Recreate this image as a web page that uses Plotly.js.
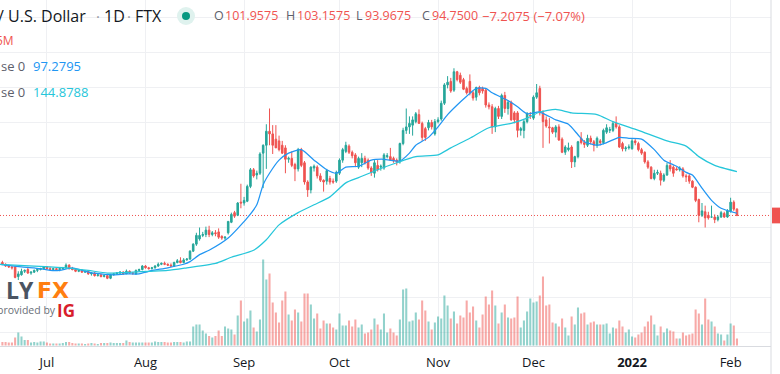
<!DOCTYPE html>
<html><head><meta charset="utf-8">
<script src="https://cdn.plot.ly/plotly-3.0.1.min.js"></script>
<style>html,body{margin:0;padding:0;background:#fff;overflow:hidden}#c{width:780px;height:374px}</style>
</head><body><div id="c"></div>
<script>
const open = [41,39,37,36,36,25,27,31,33,29,
30,32,33,34,36,34,33,34,33,34,
35,38,34,33,31,32,30,31,28,29,
26,27,25,26,23,27,28,29,30,28,
31,29,28,32,33,37,35,34,35,37,
39,40,39,38,37,41,43,41,44,45,
54,62,68,72,73,78,73,75,76,71,
69,75,87,98,95,110,109,111,128,147,
141,143,166,175,191,188,182,180,175,172,
159,160,153,148,170,155,133,124,149,150,
140,135,134,137,134,134,143,158,168,174,
167,164,150,155,160,158,149,143,152,150,
149,162,162,160,158,156,177,192,196,198,
202,210,200,194,195,201,188,202,205,223,
244,248,238,259,255,250,240,248,235,230,
241,240,238,221,219,196,217,208,232,217,
224,212,212,192,192,202,209,206,230,240,
212,204,196,195,190,196,182,167,170,173,
156,162,183,178,175,183,179,175,180,178,
190,192,192,200,196,177,171,172,171,180,
177,170,167,156,150,137,143,143,135,141,
152,150,148,147,148,140,140,134,127,113,
95,99,95,93,93,90,93,97,93,100,
110,101.9575];
const high = [43,40,38,37,37,31,34,33,36,31,
33,34,35,37,37,36,35,35,35,36,
40,39,36,34,33,33,32,32,30,30,
28,28,27,27,28,29,30,31,31,33,
32,30,33,34,38,38,36,36,38,41,
41,42,40,40,42,45,47,46,46,55,
63,75,81,76,82,83,77,78,80,72,
71,88,98,100,110,131,116,130,149,149,
146,167,176,199,217,198,198,186,180,175,
162,168,155,172,172,157,135,151,153,152,
143,136,148,140,137,146,160,172,179,176,
169,166,162,166,163,160,151,158,158,153,
166,166,172,162,160,178,195,217,208,208,
213,216,202,196,204,204,205,207,226,246,
254,252,263,260,258,252,242,256,237,242,
243,242,240,224,222,219,220,234,236,226,
226,214,214,196,204,213,213,232,245,243,
215,208,206,196,198,199,184,175,178,175,
163,180,190,181,187,186,181,185,182,194,
199,196,202,208,198,179,174,176,182,182,
179,172,168,158,151,147,147,146,143,155,
158,152,150,151,150,142,142,135,128,114,
109,106,99,106,96,95,100,99,102,115,
112,103.1575];
const low = [38,36,35,33,23,21,26,29,28,27,
29,30,32,33,33,32,32,32,31,33,
34,33,32,30,30,29,29,27,26,25,
25,24,24,22,22,26,27,27,27,28,
28,27,27,31,32,34,33,33,34,36,
38,38,37,36,36,40,40,40,43,44,
53,60,66,70,70,70,71,71,68,67,
67,73,86,92,94,103,106,110,126,138,
136,141,126,148,175,165,172,168,165,143,
155,150,134,145,150,130,116,120,145,137,
133,122,130,130,131,132,141,155,166,165,
160,150,148,150,153,147,140,138,145,146,
147,160,157,155,152,154,175,188,188,186,
200,200,180,180,192,193,186,200,203,221,
240,235,236,248,245,238,233,232,226,226,
232,234,218,216,188,190,205,205,212,210,
203,200,184,186,183,200,205,204,228,209,
172,195,177,188,184,180,166,164,168,149,
150,160,176,172,173,176,168,172,175,176,
188,189,190,194,172,168,168,170,170,175,
168,164,154,148,136,135,141,129,133,140,
145,139,146,145,138,133,131,126,110,87,
93,81,90,92,86,88,92,92,92,98,
100,93.9675];
const close = [39,37,36,35,24,28,31,32,29,30,
32,33,34,36,34,33,34,33,34,35,
38,34,33,31,32,30,31,28,29,26,
27,25,26,23,27,28,29,30,28,31,
29,29,32,33,37,35,34,35,37,39,
40,39,38,37,41,43,41,44,45,54,
62,72,72,73,78,73,75,74,70,69,
70,88,96,94,109,109,112,128,147,140,
143,165,175,191,188,175,172,170,166,159,
160,152,148,170,152,133,124,150,151,140,
135,133,146,133,133,144,158,170,175,167,
163,155,160,160,155,149,144,155,147,151,
164,163,158,157,156,177,192,196,200,204,
211,200,184,184,201,196,202,204,223,244,
247,237,259,250,247,239,235,235,229,241,
235,237,221,219,196,217,208,232,217,224,
204,204,192,194,202,211,209,230,235,212,
202,197,195,190,196,181,167,173,172,156,
162,179,178,176,183,179,175,183,178,192,
195,193,200,196,173,171,172,173,180,178,
170,166,156,150,137,143,144,135,141,152,
148,143,147,149,140,139,134,127,112,95,
100,92,92,93,90,93,98,93,100,110,
102,94.75];
const volume = [3.5,3.5,3,3,8,13,9,5.5,5.5,3,
3.5,3,4,4,3,2,2,2,2,2.5,
3.5,3.5,2.5,2,2,2,1.5,2,2.5,2,
1.5,2.5,2.5,2.5,3,2.5,2.5,2.5,2.5,5,
3.5,3,3,3,3,3,3,3,4,3.5,
3.5,3.5,3,3,3.5,3.5,3.5,3,4,4,
19,21,21,15,12,9.5,8,9.5,15,9.5,
19,17,16,11,30,45,24,27,35,18,
14,26,86,66,72,43,33,23,45,54,
31,25,36,33,24,52,52,41,27,32,
17,25,22,22,18,16,32,20,20,25,
19,26,18,21,12,13,16,27,21,16,
32,13,17,13,10,26,56,57,24,25,
33,26,45,35,24,16,23,29,27,50,
40,27,34,22,30,28,45,33,39,25,
18,31,49,41,55,40,22,33,41,28,
27,28,49,18,25,34,47,43,44,50,
69,40,41,23,22,19,27,18,10,29,
21,38,32,33,21,23,24,21,21,21,
22,12,18,17,25,19,13,16,9,8,
11,13,19,24,30,21,10,19,13,17,
15,14,7,7,13,10,11,12,36,32,
21,47,26,24,19,12,11,5,11,22,
20,7];
const ma20Day = [-1,6,10,15,18,22,27,31,35,39,43,46,52,57,59,62,65,71,77,80,82,84,87,90,94,98,102,105,108,112,116,120,125,128,130,134,137,140,143,146,149,152,154,159,162,165,169,174,178,181,183,187,190,194,197,201,205,208,212,215,217,220,223,226,231];
const ma20 = [39,36,35,32,32,35,30,28,27,28,28,31,35,39,42,50,55,69,92,107,130,143,158,166,170,158,147,143,150,151,158,159,157,166,175,184,196,210,221,231,240,240,235,226,219,211,213,204,199,187,179,175,178,184,183,182,170,158,151,144,141,126,112,103,97.2795];
const ma50Day = [-1,10,20,27,33,41,46,52,58,67,72,79,83,87,93,98,103,108,112,118,124,130,137,141,147,153,160,165,169,174,179,187,192,200,209,215,219,224,231];
const ma50 = [39,37,35,32,29,30,31,32,35,40,47,55,67,84,98,107,116,132,138,147,155,162,164,172,183,195,200,206,213,216,212,210,202,192,180,174,162,152,144.8788];
const monthTicks = ['2021-07-01','2021-08-01','2021-09-01','2021-10-01','2021-11-01','2021-12-01','2022-01-01','2022-02-01'];
const monthLabels = ['Jul','Aug','Sep','Oct','Nov','Dec','<b>2022</b>','Feb'];

const UP='#26a69a', DOWN='#ef5350', FONT='"Open Sans", sans-serif', WIDE='"DejaVu Sans", sans-serif';
function dayStr(i){return new Date(Date.UTC(2021,5,17+i)).toISOString().slice(0,10);}
const dates = open.map((_,i)=>dayStr(i));
const W=771,H=346;
const ax=(px,py,text,size,color,family)=>({xref:'paper',yref:'paper',x:px/W,y:1-py/H,text,showarrow:false,xanchor:'left',yanchor:'middle',borderpad:0,font:{family:family||FONT,size,color}});
const RED='#ef5350',GREY='#5d606b';
const annotations=[
 ax(-3,16,'/ U.S. Dollar',16,'#131722'),
 ax(94.5,16,'·',15,'#9598a1'),
 ax(103,16,'1D',16,'#131722'),
 ax(125.5,16,'·',15,'#9598a1'),
 ax(134,16,'FTX',16,'#131722'),
 ax(213,16,'O',12.5,GREY),ax(223.5,16,'101.9575',12.5,RED),
 ax(285,16,'H',12.5,GREY),ax(295.5,16,'103.1575',12.5,RED),
 ax(355,16,'L',12.5,GREY),ax(364,16,'93.9675',12.5,RED),
 ax(421,16,'C',12.5,GREY),ax(431,16,'94.7500',12.5,RED),
 ax(481,16,'−7.2075 (−7.07%)',13,RED),
 ax(-5,41,'5M',12,RED),
 ax(0,66,'se 0',13,GREY),ax(32,66,'97.2795',13,'#2196f3'),
 ax(0,92,'se 0',13,GREY),ax(32,92,'144.8788',13,'#26c6da'),
 ax(5,290,'<b>LY</b>',23,'#4a5462'),
 ax(36,290,'<b>FX</b>',22,'#ff7f11',WIDE),
 ax(-4,310,'provided by',10.5,'#6a6f78'),
 ax(56,310,'<b>IG</b>',17,'#d81e2c')
];
const shapes=[
 {type:'line',xref:'paper',yref:'y',x0:0,x1:1,y0:close[close.length-1],y1:close[close.length-1],line:{color:RED,width:1,dash:'1px,2px'},layer:'below'},
 {type:'rect',xref:'paper',yref:'y',x0:1.0013,x1:1.02,y0:close[close.length-1]-9,y1:close[close.length-1]+9,fillcolor:RED,line:{width:0}},
 {type:'circle',xref:'paper',yref:'paper',x0:177/W,x1:195/W,y0:1-25/H,y1:1-7/H,fillcolor:'#dff2ee',line:{width:0}},
 {type:'circle',xref:'paper',yref:'paper',x0:182/W,x1:190/W,y0:1-20/H,y1:1-12/H,fillcolor:'#089981',line:{width:0}},
 {type:'line',xref:'paper',yref:'paper',x0:1,x1:1,y0:0,y1:1,line:{color:'#d9dbe0',width:1}},
 {type:'line',xref:'paper',yref:'paper',x0:1,x1:1,y0:0,y1:-28/H,line:{color:'#d9dbe0',width:1}}
];
const traces=[
 {type:'bar',x:dates,y:volume,yaxis:'y2',hoverinfo:'skip',
  marker:{color:close.map((c,i)=>c>=open[i]?'rgba(38,166,154,.5)':'rgba(239,83,80,.5)'),line:{width:0}}},
 {type:'candlestick',x:dates,open,high,low,close,whiskerwidth:0,
  increasing:{line:{color:UP,width:1},fillcolor:UP},
  decreasing:{line:{color:DOWN,width:1},fillcolor:DOWN},hoverinfo:'skip'},
 {type:'scatter',mode:'lines',x:ma20Day.map(dayStr),y:ma20,line:{color:'#2196f3',width:1.25,shape:'spline',smoothing:.6},hoverinfo:'skip'},
 {type:'scatter',mode:'lines',x:ma50Day.map(dayStr),y:ma50,line:{color:'#26c6da',width:1.25,shape:'spline',smoothing:.6},hoverinfo:'skip'}
];
const layout={
 width:780,height:374,margin:{l:0,r:9,t:0,b:28,pad:0},paper_bgcolor:'#fff',plot_bgcolor:'#fff',
 showlegend:false,bargap:.35,boxgap:.3,annotations,shapes,
 xaxis:{type:'date',range:['2021-06-16 05:53','2022-02-13 16:48'],tickmode:'array',tickvals:monthTicks,ticktext:monthLabels,
  tickangle:0,ticks:'',showgrid:true,gridcolor:'#eff0f3',gridwidth:1,showline:true,linecolor:'#d9dbe0',linewidth:1,zeroline:false,
  rangeslider:{visible:false},tickfont:{family:FONT,size:13,color:'#131722'},ticklabelstandoff:4},
 yaxis:{range:[-54.4,341],tick0:1,dtick:40,tickmode:'linear',showticklabels:false,ticks:'',showgrid:true,gridcolor:'#eff0f3',gridwidth:1,zeroline:false,fixedrange:true},
 yaxis2:{overlaying:'y',range:[-0.5,345.5],visible:false,showgrid:false,zeroline:false,fixedrange:true}
};
Plotly.newPlot('c',traces,layout,{displayModeBar:false,staticPlot:true});
</script></body></html>
